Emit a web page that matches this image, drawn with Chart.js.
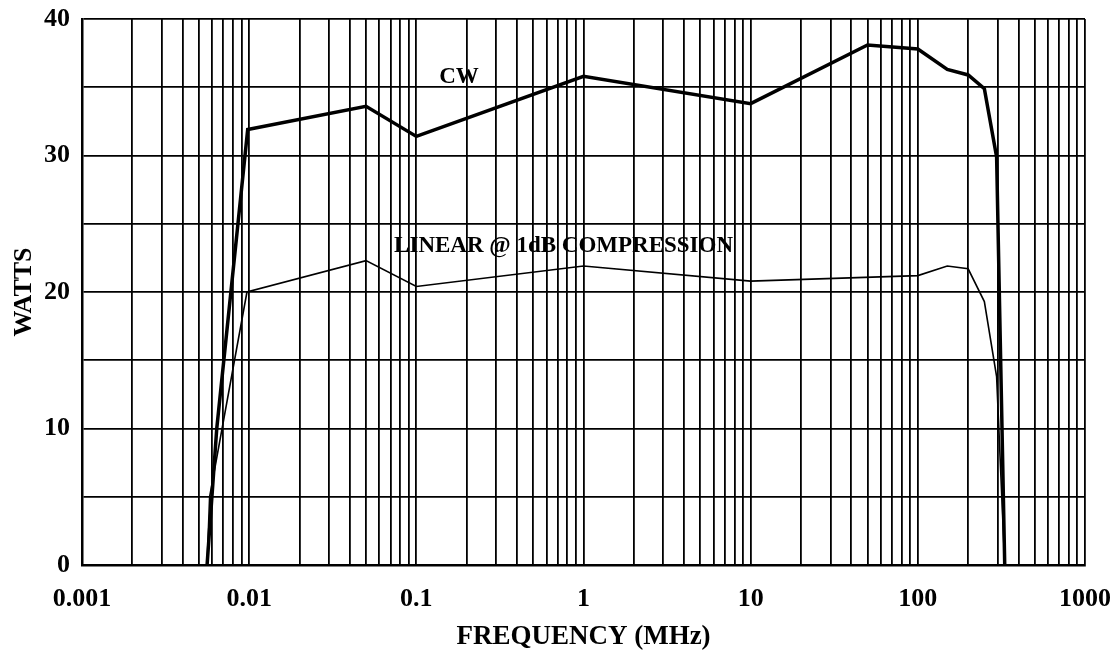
<!DOCTYPE html>
<html>
<head>
<meta charset="utf-8">
<script src="https://cdn.jsdelivr.net/npm/chart.js@4.4.1/dist/chart.umd.min.js"></script>
<style>
  html, body { margin: 0; padding: 0; background: #fff; }
  #wrap { width: 1116px; height: 651px; }
</style>
</head>
<body>
<div id="wrap"><canvas id="chart"></canvas></div>
<script>
// valores (MHz / W)
const cwFreq   = [0.0056, 0.0064, 0.0098, 0.05, 0.1, 1, 10, 50, 100, 150, 200, 250, 296, 331];
const cwWatts  = [0, 10, 31.9, 33.6, 31.4, 35.8, 33.8, 38.1, 37.8, 36.3, 35.9, 34.9, 29.9, 0];
const linFreq  = [0.0056, 0.0058, 0.0097, 0.05, 0.1, 1, 10, 100, 150, 200, 250, 296, 331];
const linWatts = [0, 5, 20, 22.3, 20.4, 21.9, 20.8, 21.2, 21.9, 21.7, 19.3, 13.8, 0];

const decades     = [0.001, 0.01, 0.1, 1, 10, 100, 1000];
const xTickLabels = ['0.001', '0.01', '0.1', '1', '10', '100', '1000'];
const yTickLabels = [0, 10, 20, 30, 40];

const notes = [
  { text: 'CW', x: 0.18, y: 35.75 },
  { text: 'LINEAR @ 1dB COMPRESSION', x: 0.76, y: 23.4 }
];

// linhas de grade 1..9 em cada década
const xGrid = decades.slice(0, -1)
  .flatMap(d => [1, 2, 3, 4, 5, 6, 7, 8, 9].map(k => Number((k * d).toPrecision(6))))
  .concat([1000]);

const serif = '"Liberation Serif", "Times New Roman", serif';

// sem folga extra dos rótulos, a área do gráfico fica só com o layout.padding
const noPad = s => { s.paddingLeft = s.paddingRight = s.paddingTop = s.paddingBottom = 0; };

const notePlugin = {
  id: 'notes',
  afterDatasetsDraw(chart) {
    const { ctx, scales: { x, y } } = chart;
    ctx.save();
    ctx.font = 'bold 23px ' + serif;
    ctx.fillStyle = '#000';
    ctx.textAlign = 'center';
    ctx.textBaseline = 'middle';
    notes.forEach(n => ctx.fillText(n.text, x.getPixelForValue(n.x), y.getPixelForValue(n.y)));
    ctx.restore();
  }
};

const chart = document.querySelector('#chart').getContext('2d');
new Chart(chart, {
  type: 'line',
  data: {
    datasets: [
      {
        label: 'CW',
        data: cwFreq.map((f, i) => ({ x: f, y: cwWatts[i] })),
        borderColor: '#000',
        borderWidth: 3.5,
        pointRadius: 0,
        tension: 0
      },
      {
        label: 'LINEAR @ 1dB COMPRESSION',
        data: linFreq.map((f, i) => ({ x: f, y: linWatts[i] })),
        borderColor: '#000',
        borderWidth: 1.6,
        pointRadius: 0,
        tension: 0
      }
    ]
  },
  options: {
    responsive: true,
    maintainAspectRatio: false,
    animation: false,
    layout: { padding: { top: 19, right: 31, left: 0, bottom: 0 } },
    plugins: {
      legend: { display: false },
      tooltip: { enabled: false }
    },
    scales: {
      x: {
        type: 'logarithmic',
        min: 0.001,
        max: 1000,
        afterBuildTicks: s => { s.ticks = xGrid.map(v => ({ value: v })); },
        afterFit: s => { s.height = 86; noPad(s); },
        grid: { color: '#000', lineWidth: 1.8, drawTicks: false },
        border: { color: '#000', width: 2.5 },
        ticks: {
          autoSkip: false,
          maxRotation: 0,
          padding: 19,
          color: '#000',
          font: { family: serif, size: 26, weight: 'bold' },
          callback: v => {
            const i = decades.indexOf(v);
            return i >= 0 ? xTickLabels[i] : '';
          }
        },
        title: {
          display: true,
          text: 'FREQUENCY (MHz)',
          color: '#000',
          font: { family: serif, size: 27, weight: 'bold', lineHeight: 1 },
          padding: { top: 0, bottom: 0 }
        }
      },
      y: {
        min: 0,
        max: 40,
        afterFit: s => { s.width = 82; noPad(s); },
        grid: { color: '#000', lineWidth: 1.8, drawTicks: false },
        border: { color: '#000', width: 2.5 },
        ticks: {
          stepSize: 5,
          padding: 12,
          color: '#000',
          font: { family: serif, size: 26, weight: 'bold' },
          callback: v => yTickLabels.includes(v) ? String(v) : ''
        },
        title: {
          display: true,
          text: 'WATTS',
          color: '#000',
          font: { family: serif, size: 26, weight: 'bold' },
          padding: { top: 9, bottom: 0 }
        }
      }
    }
  },
  plugins: [notePlugin]
});
</script>
</body>
</html>
